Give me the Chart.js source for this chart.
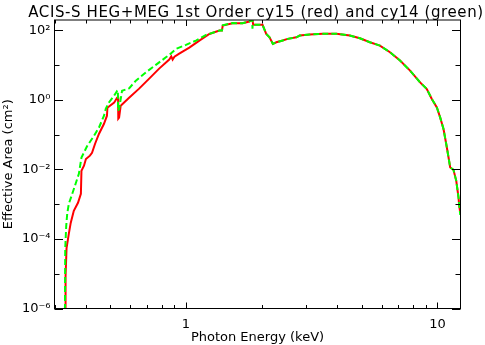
<!DOCTYPE html>
<html>
<head>
<meta charset="utf-8">
<title>ACIS-S HEG+MEG 1st Order effective area</title>
<script src="https://cdn.jsdelivr.net/npm/chart.js@4/dist/chart.umd.min.js"></script>
<style>
  html, body { margin: 0; padding: 0; background: #fff; }
  canvas { display: block; }
</style>
</head>
<body>
<canvas id="c" width="485" height="345"></canvas>
<script>
// Photon energy (keV) and effective area (cm^2), cycle 15
const energyCy15 = [0.331,0.332,0.335,0.342,0.348,0.358,0.372,0.382,0.384,0.393,0.400,0.415,0.423,0.435,0.451,0.472,0.485,0.487,0.518,0.532,0.537,0.538,0.542,0.550,0.594,0.651,0.714,0.782,0.858,0.874,0.885,0.900,0.940,1.031,1.130,1.239,1.358,1.390,1.400,1.530,1.678,1.789,1.822,1.839,1.850,2.016,2.085,2.149,2.216,2.287,2.423,2.537,2.748,2.833,3.105,3.499,3.968,4.483,4.915,5.387,5.906,6.475,7.099,7.783,8.530,9.072,9.498,9.945,10.25,10.57,10.90,11.24,11.58,11.88,12.13,12.20,12.32];
const areaCy15   = [5e-7,8.6e-6,5.5e-5,1.4e-4,2.9e-4,6.5e-4,1.1e-3,2.0e-3,9.2e-3,1.28e-2,2.0e-2,2.5e-2,3.0e-2,5.5e-2,0.107,0.207,0.353,0.60,0.836,1.16,1.2,0.29,0.31,0.685,1.16,2.12,4.11,7.98,14.5,18.0,14.5,17.5,21.6,32.1,51.2,79.4,99,99,138,161,161,180,200,200,145,145,79.8,63.7,41.1,45.7,51.2,57.3,63.7,71.3,76.2,79.8,79.8,71.3,59.6,45.7,36.7,23.6,13.6,6.98,3.21,2.07,1.07,0.612,0.315,0.146,0.043,0.0114,9.8e-3,4.7e-3,1.56e-3,9.0e-4,5.8e-4];

// Photon energy (keV) and effective area (cm^2), cycle 14
const energyCy14 = [0.330,0.331,0.334,0.337,0.342,0.353,0.364,0.375,0.384,0.405,0.431,0.451,0.472,0.480,0.494,0.518,0.533,0.536,0.537,0.542,0.557,0.594,0.632,0.692,0.759,0.832,0.858,0.912,1.000,1.096,1.202,1.358,1.390,1.400,1.530,1.678,1.789,1.822,1.836,1.838,1.842,1.850,2.016,2.085,2.149,2.216,2.287,2.423,2.537,2.748,2.833,3.105,3.499,3.968,4.483,4.915,5.387,5.906,6.475,7.099,7.783,8.530,9.072,9.498,9.945,10.25,10.57,10.90,11.24,11.58,11.88,12.13,12.32];
const areaCy14   = [5e-7,5.5e-5,2.4e-4,5.3e-4,1.03e-3,2.0e-3,3.9e-3,7.5e-3,0.022,0.048,0.094,0.162,0.353,0.56,0.85,1.33,1.85,1.9,0.49,0.56,1.85,2.16,3.6,6.2,10.2,16.9,19.8,29.5,38.5,51.2,74.6,99,99,140,163,162,182,200,200,113,145,145,145,79.8,63.7,41.1,45.7,51.2,57.3,63.7,71.3,76.2,79.8,79.8,71.3,59.6,45.7,36.7,23.6,13.6,6.98,3.21,2.07,1.07,0.612,0.315,0.146,0.043,0.0114,9.8e-3,4.7e-3,1.56e-3,4.9e-4];

// Axis ranges and labelled ticks
const xRange = [0.3, 12.35];
const yRange = [1e-6, 200];
const xTickValues = [1, 10];
const xTickLabels = ['1', '10'];
const yTickValues = [1e-6, 1e-4, 1e-2, 1, 1e2];
const yTickLabels = ['10\u207B\u2076', '10\u207B\u2074', '10\u207B\u00B2', '10\u2070', '10\u00B2'];

const titleText = 'ACIS-S HEG+MEG 1st Order cy15 (red) and cy14 (green)';
const FONT = 'DejaVu Sans';

const toPoints = (xs, ys) => xs.map((v, i) => ({ x: v, y: ys[i] }));

// Box frame with inward ticks on all four sides, plus the title
const framePlugin = {
  id: 'framePlugin',
  afterDraw(chart) {
    const { ctx, chartArea: a, scales } = chart;
    const xs = scales.x, ys = scales.y;
    ctx.save();
    ctx.strokeStyle = '#000';
    ctx.lineWidth = 1;
    ctx.strokeRect(a.left, a.top, a.right - a.left, a.bottom - a.top);
    ctx.beginPath();
    for (let d = -1; d <= 1; d++) {
      for (let m = 1; m <= 9; m++) {
        const v = m * Math.pow(10, d);
        if (v < xRange[0] - 1e-9 || v > xRange[1]) continue;
        const px = Math.round(xs.getPixelForValue(v)) + 0.5;
        const len = m === 1 ? 6 : 3.5;
        ctx.moveTo(px, a.bottom); ctx.lineTo(px, a.bottom - len);
        ctx.moveTo(px, a.top); ctx.lineTo(px, a.top + len);
      }
    }
    for (let e = -6; e <= 2; e++) {
      const py = Math.round(ys.getPixelForValue(Math.pow(10, e))) + 0.5;
      const len = e % 2 === 0 ? 8.5 : 5;
      ctx.moveTo(a.left, py); ctx.lineTo(a.left + len, py);
      ctx.moveTo(a.right, py); ctx.lineTo(a.right - len, py);
    }
    ctx.stroke();
    ctx.fillStyle = '#000';
    ctx.font = '15px "' + FONT + '"';
    if ('letterSpacing' in ctx) ctx.letterSpacing = '0.6px';
    ctx.textAlign = 'center';
    ctx.textBaseline = 'middle';
    ctx.fillText(titleText, 256, 13);
    ctx.restore();
  }
};

new Chart(document.getElementById('c'), {
  type: 'line',
  data: {
    datasets: [
      {
        label: 'cy14',
        data: toPoints(energyCy14, areaCy14),
        borderColor: '#00ff00',
        borderWidth: 2,
        borderDash: [6, 3],
        pointRadius: 0,
        tension: 0,
        fill: false,
        order: 0
      },
      {
        label: 'cy15',
        data: toPoints(energyCy15, areaCy15),
        borderColor: '#ff0000',
        borderWidth: 2,
        pointRadius: 0,
        tension: 0,
        fill: false,
        order: 1
      }
    ]
  },
  options: {
    responsive: false,
    animation: false,
    devicePixelRatio: 1,
    layout: { padding: { left: 0, right: 24.5, top: 20, bottom: 0 } },
    plugins: { legend: { display: false }, tooltip: { enabled: false }, title: { display: false } },
    scales: {
      x: {
        type: 'logarithmic',
        min: xRange[0],
        max: xRange[1],
        grid: { display: false, drawTicks: false },
        border: { display: false },
        afterBuildTicks: (s) => { s.ticks = xTickValues.map(v => ({ value: v })); },
        afterFit: (s) => { s.height = 36.5; },
        ticks: {
          autoSkip: false,
          maxRotation: 0,
          padding: 8,
          color: '#000',
          font: { family: FONT, size: 13 },
          callback: (v, i) => xTickLabels[i]
        },
        title: {
          display: true,
          text: 'Photon Energy (keV)',
          color: '#000',
          font: { family: FONT, size: 13 },
          padding: { top: 0, bottom: 0 }
        }
      },
      y: {
        type: 'logarithmic',
        min: yRange[0],
        max: yRange[1],
        grid: { display: false, drawTicks: false },
        border: { display: false },
        afterBuildTicks: (s) => { s.ticks = yTickValues.map(v => ({ value: v })); },
        afterFit: (s) => { s.width = 54.5; },
        ticks: {
          autoSkip: false,
          padding: 4,
          color: '#000',
          font: { family: FONT, size: 13 },
          callback: (v, i) => yTickLabels[i]
        },
        title: {
          display: true,
          text: 'Effective Area (cm\u00B2)',
          color: '#000',
          font: { family: FONT, size: 13 },
          padding: { top: 1, bottom: 0 }
        }
      }
    }
  },
  plugins: [framePlugin]
});
</script>
</body>
</html>
